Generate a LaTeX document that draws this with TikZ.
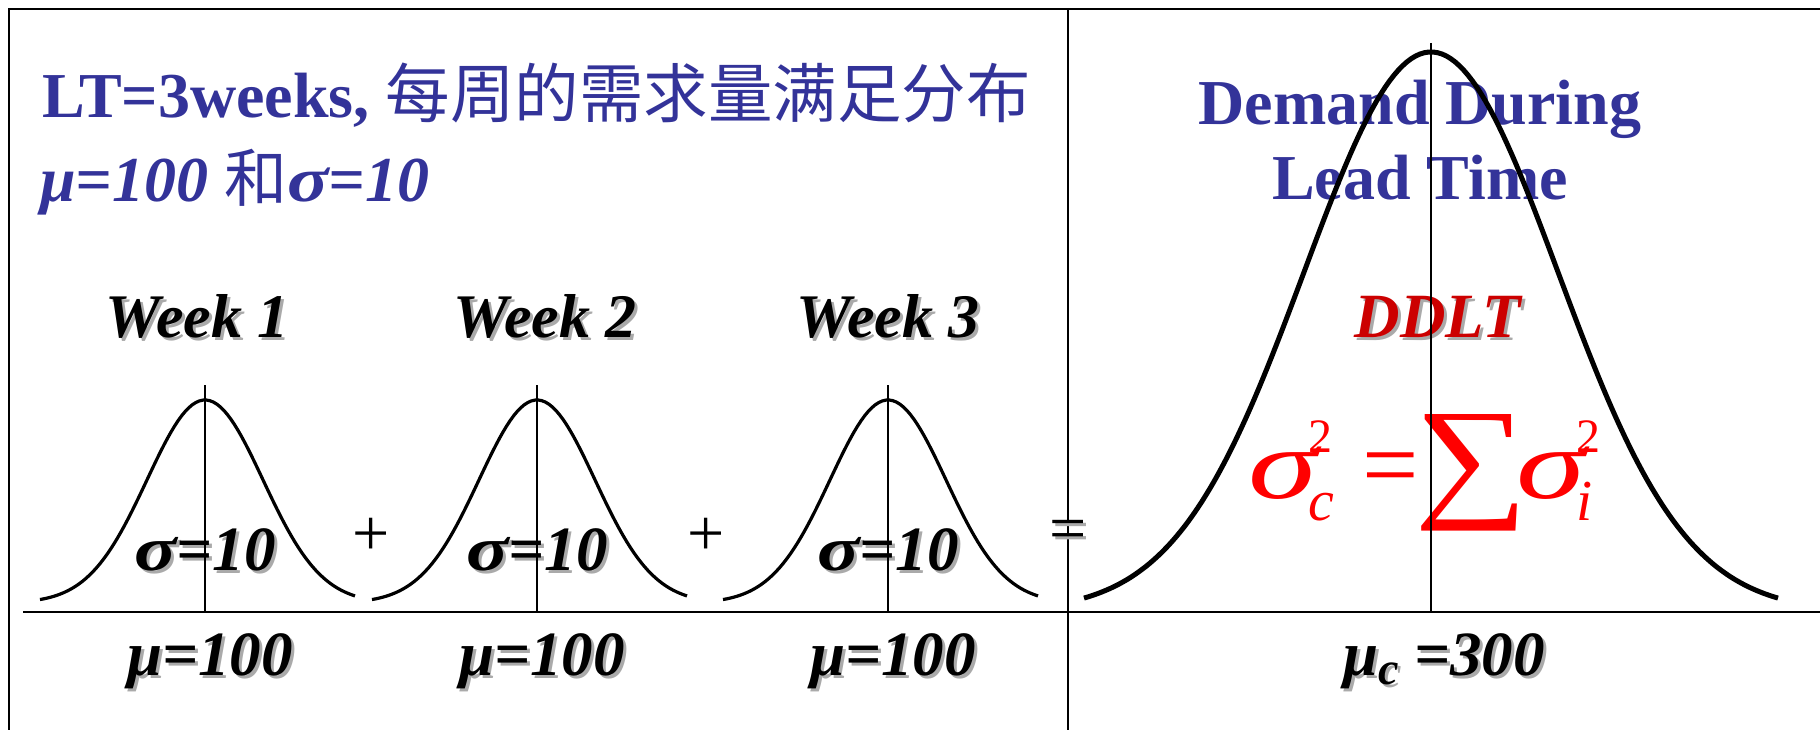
\documentclass[tikz,border=0pt]{standalone}
\usepackage{fontspec}
\setmainfont{Liberation Serif}
\newfontfamily\cjk{Noto Sans CJK SC}
\usetikzlibrary{positioning}
\definecolor{titleblue}{RGB}{51, 51, 153}
\definecolor{ddltred}{RGB}{204, 0, 0}
\definecolor{formred}{RGB}{255, 0, 0}
\definecolor{shadegray}{RGB}{170, 170, 170}
% gray drop shadow behind a text
\newcommand{\shd}[1]{\rlap{\kern3pt\raisebox{-3pt}{\color{shadegray}#1}}#1}
% wide sigma
\newcommand{\wsig}[1]{\scalebox{#1}[1]{σ}}
% stacked sub- and superscript
\newcommand{\supsub}[2]{\kern-9pt\rlap{\raisebox{46pt}{\fontsize{48}{48}\selectfont\upshape #2}}\raisebox{-22pt}{\fontsize{58}{58}\selectfont\itshape #1}}

\begin{document}
\begin{tikzpicture}[x=1pt, y=-1pt,
    titletext/.style={font=\fontsize{64}{64}\selectfont\bfseries, text=titleblue, inner sep=0pt},
    weeklabel/.style={font=\fontsize{62}{62}\selectfont\bfseries\itshape, anchor=base, inner sep=0pt},
    paramlabel/.style={font=\fontsize{63}{63}\selectfont\bfseries\itshape, anchor=base, inner sep=0pt},
    opsign/.style={font=\fontsize{66}{66}\selectfont, inner sep=0pt},
    frameline/.style={line width=1.5pt},
    meanline/.style={line width=1.5pt},
    bellsmall/.style={line width=3.2pt},
    bellbig/.style={line width=5pt}]
    \useasboundingbox (0,0) rectangle (1820,730);

    % title
    \node[titletext, anchor=base west] (title) at (42,118) {LT=3weeks, {\cjk\mdseries\fontsize{64.5}{64}\selectfont 每周的需求量满足分布}};
    \node[titletext, anchor=base west] (params) at (40,202) {\itshape μ=100 {\cjk\mdseries\upshape\fontsize{63}{63}\selectfont 和}\wsig{1.2}=10};

    % frame
    \draw[frameline] (9,730) -- (9,9) -- (1820,9);
    \draw[frameline] (1068,9) -- (1068,730);
    \draw[frameline] (23,612) -- (1820,612);

    % three weeks
    \foreach \cx/\lx/\n in {205/197/1, 537/545/2, 888/888/3} {
        \node[weeklabel] (week\n) at (\lx,337) {\shd{Week \n}};
        \node[paramlabel] (sig\n) at (\cx,570) {\shd{\wsig{1.25}=10}};
        \node[paramlabel] (mu\n) at (\cx+5,675) {\shd{μ=100}};
        \coordinate (top\n) at (\cx,385);
        \coordinate (foot\n) at (\cx,612);
        \draw[meanline] (top\n) -- (foot\n);
        \draw[bellsmall] plot[domain=-165:150, samples=90]
            ({\cx+\x}, {598-198*(exp(-0.5*(\x/58)*(\x/58))-0.025)/0.975});
    }
    \node[opsign] (plus1) at (371,537) {+};
    \node[opsign] (plus2) at (706,537) {+};
    \node[opsign] (equal) at (1068,537) {\shd{=}};

    % lead time demand
    \node[titletext, anchor=base] (demand) at (1420,125) {Demand During};
    \node[titletext, anchor=base] (leadtime) at (1420,200) {Lead Time};
    \node[weeklabel, text=ddltred, font=\fontsize{63}{63}\selectfont\bfseries\itshape] (ddlt) at (1438,337) {\shd{DDLT}};
    \node[anchor=base west, inner sep=0pt, text=formred, font=\fontsize{100}{100}\selectfont] (sumform) at (1248,498)
        {\itshape\wsig{1.4}\supsub{c}{2}\kern28pt\upshape=\kern-4pt\raisebox{-4pt}{\scalebox{1}[0.84]{\fontsize{160}{160}\selectfont ∑}}\kern-12pt\itshape\wsig{1.4}\supsub{i}{2}};
    \node[paramlabel] (muc) at (1444,675) {\shd{μ\raisebox{-9pt}{\fontsize{46}{46}\selectfont c} =300}};
    \coordinate (topc) at (1431,43);
    \coordinate (footc) at (1431,612);
    \draw[meanline] (topc) -- (footc);
    \draw[bellbig] plot[domain=-347:347, samples=160]
        ({1431+\x}, {598-546*(exp(-0.5*(\x/127)*(\x/127))-0.024)/0.976});
\end{tikzpicture}
\end{document}
